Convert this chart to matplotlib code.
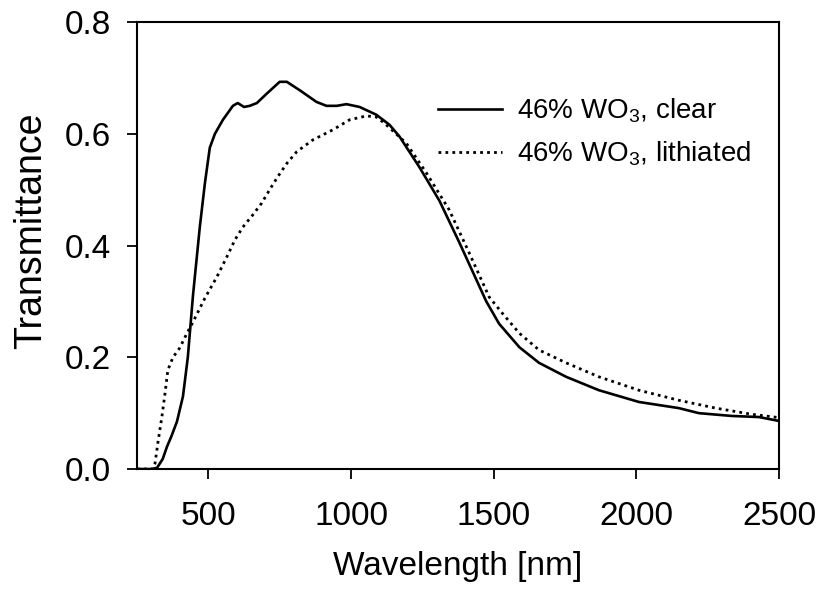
import matplotlib
matplotlib.use("Agg")
import matplotlib.pyplot as plt

plt.rcParams['font.family'] = ['Liberation Sans', 'DejaVu Sans']
plt.rcParams['mathtext.fontset'] = 'custom'
plt.rcParams['mathtext.rm'] = 'Liberation Sans'
plt.rcParams['mathtext.it'] = 'Liberation Sans'

# clear film
clear_nm = [250, 300, 320, 340, 355, 370, 390, 411, 428, 446, 470, 488, 505, 523, 551,
            586, 603, 625, 645, 670, 705, 750, 775, 820, 879, 914, 950, 984, 1030,
            1089, 1135, 1170, 1240, 1310, 1380, 1474, 1519, 1590, 1659, 1754, 1869,
            2009, 2149, 2219, 2334, 2430, 2500]
clear_T = [0.0, 0.0, 0.002, 0.018, 0.04, 0.058, 0.085, 0.13, 0.2, 0.31, 0.433, 0.512,
           0.575, 0.60, 0.625, 0.65, 0.655, 0.648, 0.65, 0.655, 0.672, 0.693, 0.693,
           0.678, 0.657, 0.65, 0.65, 0.653, 0.648, 0.634, 0.616, 0.595, 0.54, 0.48,
           0.405, 0.30, 0.26, 0.218, 0.19, 0.165, 0.141, 0.12, 0.109, 0.10, 0.095,
           0.093, 0.086]

# lithiated film
lith_nm = [250, 305, 313, 324, 337, 348, 358, 376, 400, 425, 446, 488, 530, 568, 593,
           621, 656, 687, 715, 743, 775, 810, 866, 936, 995, 1054, 1089, 1117, 1194,
           1264, 1344, 1414, 1484, 1530, 1590, 1659, 1754, 1869, 2009, 2149, 2278,
           2404, 2500]
lith_T = [0.0, 0.0, 0.01, 0.05, 0.093, 0.135, 0.177, 0.2, 0.217, 0.243, 0.263, 0.306,
          0.344, 0.383, 0.41, 0.433, 0.455, 0.476, 0.50, 0.523, 0.547, 0.568, 0.589,
          0.607, 0.625, 0.632, 0.63, 0.619, 0.583, 0.53, 0.464, 0.387, 0.308, 0.279,
          0.243, 0.213, 0.19, 0.165, 0.141, 0.123, 0.109, 0.098, 0.092]

fig = plt.figure(figsize=(8.22, 5.89), dpi=100)
ax = fig.add_axes([0.1667, 0.2037, 0.7810, 0.7589])

ax.plot(clear_nm, clear_T, color='black', lw=1.9, label='46% WO$_3$, clear')
ax.plot(lith_nm, lith_T, color='black', lw=2.0, linestyle=(0, (1, 1.5)),
        label='46% WO$_3$, lithiated')

ax.set_xlim(250, 2500)
ax.set_ylim(0, 0.8)
ax.set_xticks([500, 1000, 1500, 2000, 2500])
ax.set_yticks([0.0, 0.2, 0.4, 0.6, 0.8])
ax.set_yticklabels(['0.0', '0.2', '0.4', '0.6', '0.8'])
ax.tick_params(direction='out', length=7, width=1.3, labelsize=24)
ax.tick_params(axis='x', pad=16)
ax.tick_params(axis='y', pad=12)
for s in ax.spines.values():
    s.set_linewidth(1.5)

ax.set_xlabel('Wavelength [nm]', fontsize=24, labelpad=14)
ax.set_ylabel('Transmittance', fontsize=27)
ax.yaxis.set_label_coords(-0.137, 0.532)

ax.legend(loc='upper left', bbox_to_anchor=(0.469, 0.834), frameon=False,
          borderpad=0, borderaxespad=0, fontsize=20, handlelength=2.3,
          handletextpad=0.55, labelspacing=0.53)

fig.savefig('out.png', dpi=100)
